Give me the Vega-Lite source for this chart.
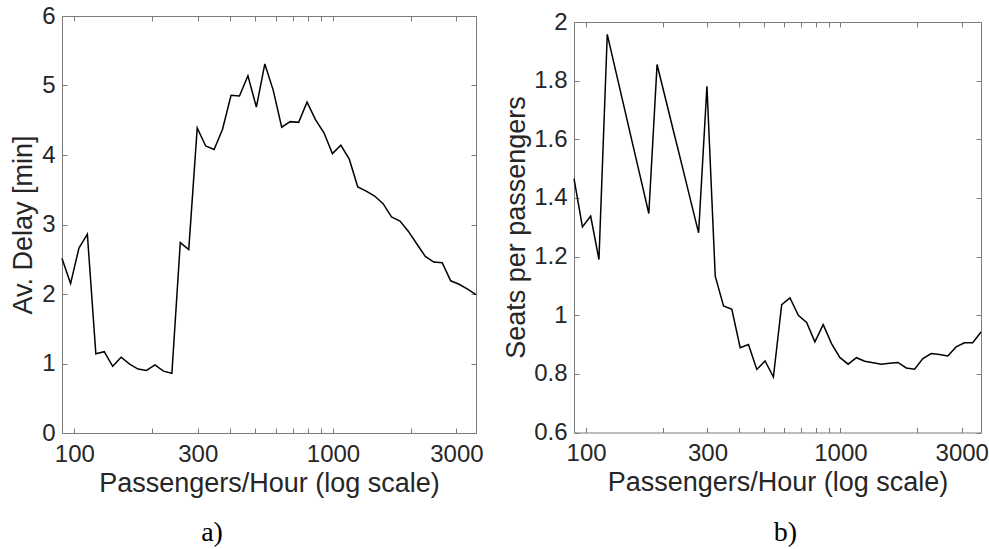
{
  "$schema": "https://vega.github.io/schema/vega-lite/v6.json",
  "background": "white",
  "padding": {"left": 8, "top": 3, "right": 0, "bottom": 0},
  "bounds": "flush",
  "spacing": 98,
  "config": {
    "font": "Liberation Sans",
    "view": {"stroke": "#7a7a7a", "strokeWidth": 1},
    "axis": {
      "grid": false,
      "domain": false,
      "tickColor": "#7a7a7a",
      "tickSize": -5,
      "tickWidth": 1,
      "labelFont": "Liberation Sans",
      "labelFontSize": 24,
      "labelColor": "#262626",
      "labelFlush": false,
      "labelOverlap": false,
      "titleFont": "Liberation Sans",
      "titleFontSize": 27,
      "titleFontWeight": "normal",
      "titleColor": "#262626"
    }
  },
  "datasets": {
    "d": [
      {"x": 89.6, "delay": 2.51, "seats": 1.466},
      {"x": 96.7, "delay": 2.15, "seats": 1.301},
      {"x": 104.2, "delay": 2.66, "seats": 1.338},
      {"x": 112.3, "delay": 2.86, "seats": 1.19},
      {"x": 121.1, "delay": 1.14, "seats": 1.958},
      {"x": 130.5, "delay": 1.17, "seats": 1.836},
      {"x": 140.7, "delay": 0.96, "seats": 1.714},
      {"x": 151.7, "delay": 1.09, "seats": 1.591},
      {"x": 163.6, "delay": 0.99, "seats": 1.469},
      {"x": 176.4, "delay": 0.92, "seats": 1.347},
      {"x": 190.1, "delay": 0.9, "seats": 1.855},
      {"x": 205.0, "delay": 0.98, "seats": 1.74},
      {"x": 221.0, "delay": 0.89, "seats": 1.625},
      {"x": 238.3, "delay": 0.86, "seats": 1.511},
      {"x": 256.8, "delay": 2.74, "seats": 1.396},
      {"x": 276.9, "delay": 2.64, "seats": 1.281},
      {"x": 298.6, "delay": 4.39, "seats": 1.781},
      {"x": 321.9, "delay": 4.13, "seats": 1.133},
      {"x": 347.0, "delay": 4.08, "seats": 1.032},
      {"x": 374.1, "delay": 4.37, "seats": 1.02},
      {"x": 403.4, "delay": 4.86, "seats": 0.889},
      {"x": 434.9, "delay": 4.85, "seats": 0.9},
      {"x": 468.9, "delay": 5.14, "seats": 0.815},
      {"x": 505.5, "delay": 4.69, "seats": 0.844},
      {"x": 545.0, "delay": 5.31, "seats": 0.789},
      {"x": 587.5, "delay": 4.93, "seats": 1.036},
      {"x": 633.4, "delay": 4.4, "seats": 1.059},
      {"x": 682.9, "delay": 4.48, "seats": 1.0},
      {"x": 736.3, "delay": 4.47, "seats": 0.975},
      {"x": 793.6, "delay": 4.76, "seats": 0.909},
      {"x": 855.6, "delay": 4.51, "seats": 0.968},
      {"x": 922.6, "delay": 4.32, "seats": 0.903},
      {"x": 994.5, "delay": 4.02, "seats": 0.856},
      {"x": 1072.3, "delay": 4.14, "seats": 0.833},
      {"x": 1156.0, "delay": 3.94, "seats": 0.855},
      {"x": 1246.4, "delay": 3.54, "seats": 0.843},
      {"x": 1343.8, "delay": 3.48, "seats": 0.838},
      {"x": 1448.5, "delay": 3.41, "seats": 0.833},
      {"x": 1561.7, "delay": 3.3, "seats": 0.836},
      {"x": 1683.5, "delay": 3.11, "seats": 0.839},
      {"x": 1815.2, "delay": 3.05, "seats": 0.82},
      {"x": 1957.1, "delay": 2.9, "seats": 0.816},
      {"x": 2109.6, "delay": 2.72, "seats": 0.852},
      {"x": 2274.5, "delay": 2.54, "seats": 0.869},
      {"x": 2452.0, "delay": 2.46, "seats": 0.866},
      {"x": 2643.7, "delay": 2.45, "seats": 0.861},
      {"x": 2850.3, "delay": 2.19, "seats": 0.892},
      {"x": 3072.5, "delay": 2.14, "seats": 0.906},
      {"x": 3312.7, "delay": 2.07, "seats": 0.906},
      {"x": 3571.0, "delay": 1.99, "seats": 0.943}
    ]
  },
  "hconcat": [
    {
      "width": 414,
      "height": 417,
      "data": {"name": "d"},
      "title": {"text": "a)", "orient": "bottom", "font": "Liberation Serif", "fontSize": 28, "fontWeight": "normal", "color": "#000000", "anchor": "middle", "dx": -57, "offset": 45, "baseline": "alphabetic"},
      "layer": [
        {
          "mark": {"type": "line", "color": "#000000", "strokeWidth": 1.5},
          "encoding": {
            "x": {"field": "x", "type": "quantitative", "scale": {"type": "log", "domain": [89.6, 3571], "nice": false},
              "axis": {"values": [100, 200, 300, 400, 500, 600, 700, 800, 900, 1000, 2000, 3000], "format": "d", "labelExpr": "indexof([100,300,1000,3000], datum.value) >= 0 ? datum.label : ''", "labelPadding": 14, "title": "Passengers/Hour (log scale)", "titleBaseline": "alphabetic", "titleY": 58, "titleX": 207, "titleAlign": "center"}},
            "y": {"field": "delay", "type": "quantitative", "scale": {"domain": [0, 6], "nice": false, "zero": false},
              "axis": {"values": [0, 1, 2, 3, 4, 5, 6], "labelPadding": 12, "title": "Av. Delay [min]", "titleAngle": -90, "titleBaseline": "alphabetic", "titleAlign": "center", "titleX": -31, "titleY": 208.5}}
          }
        },
        {
          "mark": {"type": "line", "opacity": 0},
          "encoding": {
            "x": {"field": "x", "type": "quantitative", "scale": {"type": "log", "domain": [89.6, 3571], "nice": false},
              "axis": {"orient": "top", "values": [100, 200, 300, 400, 500, 600, 700, 800, 900, 1000, 2000, 3000], "labels": false, "title": null}},
            "y": {"field": "delay", "type": "quantitative", "scale": {"domain": [0, 6], "nice": false, "zero": false},
              "axis": {"orient": "right", "values": [0, 1, 2, 3, 4, 5, 6], "labels": false, "title": null}}
          }
        }
      ],
      "resolve": {"axis": {"x": "independent", "y": "independent"}}
    },
    {
      "spacing": 0,
      "bounds": "flush",
      "vconcat": [
        {
          "width": 407,
          "height": 6,
          "view": {"stroke": null},
          "data": {"values": [{"a": 1}]},
          "mark": {"type": "point", "opacity": 0}
        },
        {
          "width": 407,
          "height": 410.5,
          "data": {"name": "d"},
          "title": {"text": "b)", "orient": "bottom", "font": "Liberation Serif", "fontSize": 28, "fontWeight": "normal", "color": "#000000", "anchor": "middle", "dx": 8, "offset": 45, "baseline": "alphabetic"},
          "layer": [
            {
              "mark": {"type": "line", "color": "#000000", "strokeWidth": 1.5},
              "encoding": {
                "x": {"field": "x", "type": "quantitative", "scale": {"type": "log", "domain": [89.6, 3571], "nice": false},
                  "axis": {"values": [100, 200, 300, 400, 500, 600, 700, 800, 900, 1000, 2000, 3000], "format": "d", "labelExpr": "indexof([100,300,1000,3000], datum.value) >= 0 ? datum.label : ''", "labelPadding": 14, "title": "Passengers/Hour (log scale)", "titleBaseline": "alphabetic", "titleY": 58, "titleX": 203.5, "titleAlign": "center"}},
                "y": {"field": "seats", "type": "quantitative", "scale": {"domain": [0.6, 2], "nice": false, "zero": false},
                  "axis": {"values": [0.6, 0.8, 1, 1.2, 1.4, 1.6, 1.8, 2], "format": "~g", "labelPadding": 12, "title": "Seats per passengers", "titleAngle": -90, "titleBaseline": "alphabetic", "titleAlign": "center", "titleX": -50, "titleY": 205}}
              }
            },
            {
              "mark": {"type": "line", "opacity": 0},
              "encoding": {
                "x": {"field": "x", "type": "quantitative", "scale": {"type": "log", "domain": [89.6, 3571], "nice": false},
                  "axis": {"orient": "top", "values": [100, 200, 300, 400, 500, 600, 700, 800, 900, 1000, 2000, 3000], "labels": false, "title": null}},
                "y": {"field": "seats", "type": "quantitative", "scale": {"domain": [0.6, 2], "nice": false, "zero": false},
                  "axis": {"orient": "right", "values": [0.6, 0.8, 1, 1.2, 1.4, 1.6, 1.8, 2], "labels": false, "title": null}}
              }
            }
          ],
          "resolve": {"axis": {"x": "independent", "y": "independent"}}
        }
      ]
    }
  ]
}
